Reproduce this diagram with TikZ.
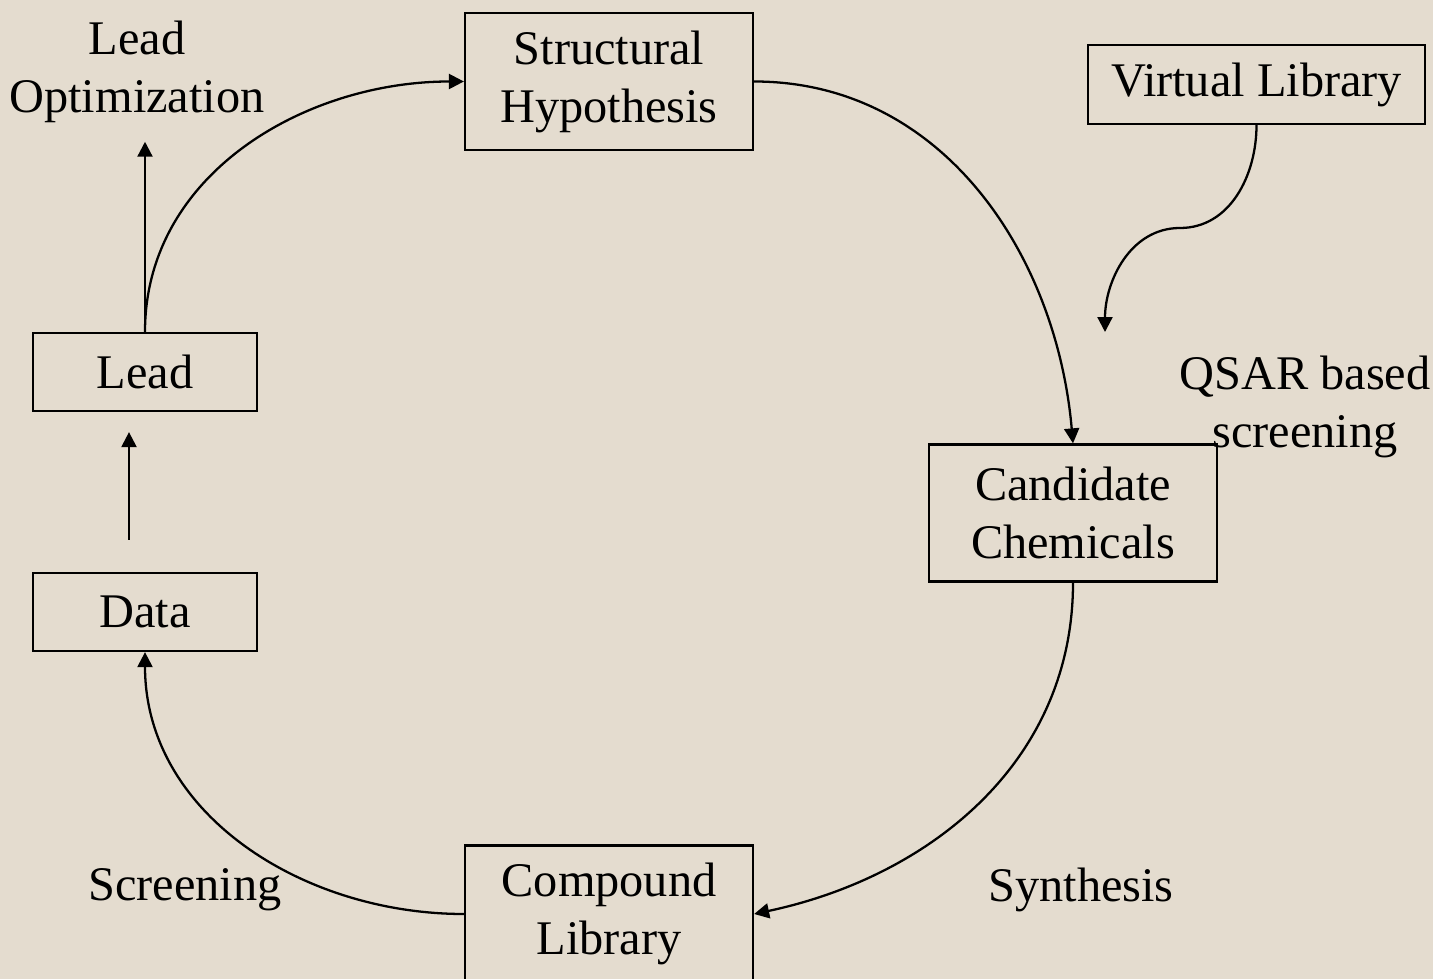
\documentclass[tikz,border=0pt]{standalone}
\usepackage{fontspec}
\setmainfont{Liberation Serif}
\usepackage{xcolor}
\usetikzlibrary{arrows.meta, positioning}
\definecolor{paper}{RGB}{228,220,207}
\tikzstyle{stage} = [rectangle, draw=black, line width=1.3pt, align=center, inner sep=0pt, minimum width=5.76cm, minimum height=2.74cm]
\tikzstyle{small} = [stage, minimum width=4.48cm, minimum height=1.56cm]
\tikzstyle{label} = [align=center, inner sep=2pt]
\tikzstyle{arrow} = [line width=1.3pt, -{Triangle[length=0.3cm,width=0.3cm]}]

\begin{document}
\begin{tikzpicture}[x=0.02cm, y=-0.02cm, font=\fontsize{27.5}{33}\selectfont]

% Background
\path[fill=paper, use as bounding box] (0,0) rectangle (1433,979);
\clip (0,0) rectangle (1433,979);

% Cycle
\node (hypo) [stage] at (609,81.5) {Structural\\Hypothesis};
\node (cand) [stage] at (1073,513) {Candidate\\Chemicals};
\node (comp) [stage] at (609,914) {Compound\\Library};
\node (data) [small] at (145,612) {Data};
\node (lead) [small] at (145,372) {Lead};

% Side nodes
\node (vlib) [stage, minimum width=6.74cm, minimum height=1.58cm] at (1256.5,84.5) {Virtual Library};
\node (leadopt) [label] at (137,72) {Lead\\Optimization};
\node (qsar) [label] at (1305,407) {QSAR based\\screening};
\node (synth) [label] at (1081,890) {Synthesis};
\node (screen) [label] at (185,890) {Screening};
\coordinate (bend) at (1180,228);
\coordinate (qsarend) at (1105,332);

% Arrows
\draw [arrow] (lead.north) to[out=90, in=180] (hypo.west);
\draw [arrow] (hypo.east) to[out=0, in=95] (cand.north);
\draw [arrow] (cand.south) to[out=-90, in=12] (comp.east);
\draw [arrow] (comp.west) to[out=180, in=-90] (data.south);
\draw [arrow, shorten <=0.64cm, shorten >=0.4cm] ([xshift=-0.32cm]data.north) -- ([xshift=-0.32cm]lead.south);
\draw [arrow, shorten >=0.3cm] (lead.north) -- (lead.north |- leadopt.south);
\draw [line width=1.3pt] (vlib.south) to[out=-90, in=0] (bend);
\draw [arrow] (bend) to[out=180, in=90] (qsarend);

\end{tikzpicture}
\end{document}
